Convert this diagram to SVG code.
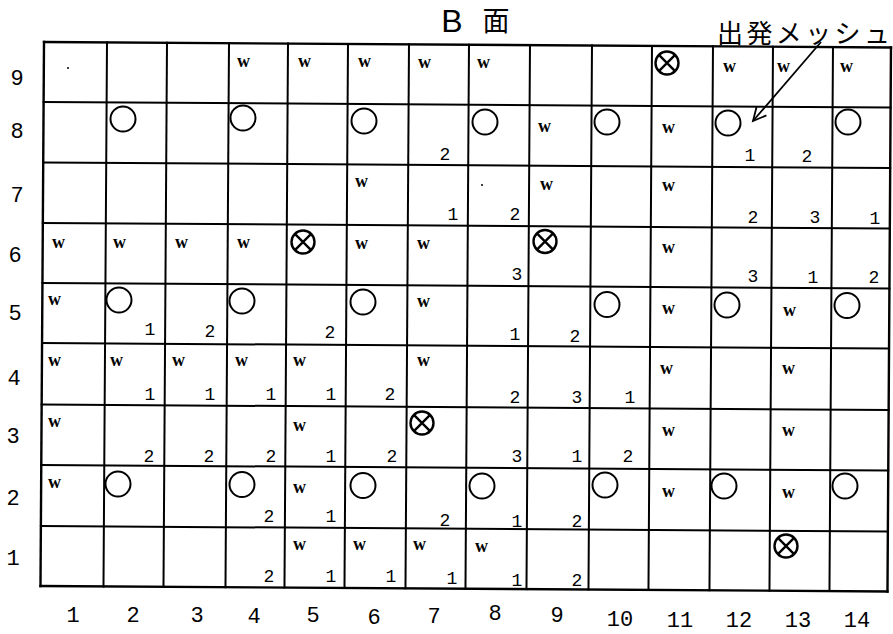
<svg xmlns="http://www.w3.org/2000/svg" width="893" height="634" viewBox="0 0 893 634">
<style>
.grid line{stroke:#000;stroke-width:2;stroke-linecap:square}
.grid .outer{stroke-width:2.4}
.lbl{font-family:"Liberation Mono","DejaVu Sans Mono",monospace;font-size:22px;fill:#000;text-anchor:middle}
.num{font-family:"Liberation Mono","DejaVu Sans Mono",monospace;font-size:18px;fill:#000;text-anchor:middle}
.w{font-family:"Liberation Serif","DejaVu Serif",serif;font-size:18px;font-weight:bold;fill:#000}
.ring{fill:none;stroke:#000;stroke-width:2}
.jp{font-family:"Noto Sans CJK JP","Noto Sans CJK SC",sans-serif;fill:#000}
.dot{fill:#000}
</style>
<defs>
<g id="ox"><circle r="11.5" fill="none" stroke="#000" stroke-width="2.4"/><path d="M-8.1,-8.1L8.1,8.1M8.1,-8.1L-8.1,8.1" stroke="#000" stroke-width="2.4"/></g>
<marker id="ah" viewBox="-2 -9 18 18" refX="13" refY="0" markerWidth="18" markerHeight="18" markerUnits="userSpaceOnUse" orient="auto"><path d="M0,-6.5L13,0L0,6.5" fill="none" stroke="#000" stroke-width="1.8"/></marker>
</defs>
<rect width="893" height="634" fill="#fff"/>

<g id="title">
<text x="452" y="32" font-family="Liberation Sans, sans-serif" font-size="32" text-anchor="middle">B</text>
<text class="jp" x="496" y="31" font-size="27" text-anchor="middle">面</text>
</g>
<g id="start-label">
<text class="jp" x="717" y="43" font-size="26" textLength="173" lengthAdjust="spacing">出発メッシュ</text>
</g>

<g id="grid" class="grid" transform="rotate(0.37 44 42)">
<line class="outer" x1="44" y1="42" x2="44" y2="586"/>
<line x1="107" y1="42" x2="107" y2="586"/>
<line x1="167" y1="42" x2="167" y2="586"/>
<line x1="229" y1="42" x2="229" y2="586"/>
<line x1="288" y1="42" x2="288" y2="586"/>
<line x1="348" y1="42" x2="348" y2="586"/>
<line x1="409" y1="42" x2="409" y2="586"/>
<line x1="469" y1="42" x2="469" y2="586"/>
<line x1="530" y1="42" x2="530" y2="586"/>
<line x1="592" y1="42" x2="592" y2="586"/>
<line x1="652" y1="42" x2="652" y2="586"/>
<line x1="713" y1="42" x2="713" y2="586"/>
<line x1="773" y1="42" x2="773" y2="586"/>
<line x1="833" y1="42" x2="833" y2="586"/>
<line class="outer" x1="891" y1="42" x2="891" y2="586"/>
<line class="outer" x1="44" y1="42" x2="891" y2="42"/>
<line x1="44" y1="102" x2="891" y2="102"/>
<line x1="44" y1="162.5" x2="891" y2="162.5"/>
<line x1="44" y1="223" x2="891" y2="223"/>
<line x1="44" y1="283" x2="891" y2="283"/>
<line x1="44" y1="343" x2="891" y2="343"/>
<line x1="44" y1="404.5" x2="891" y2="404.5"/>
<line x1="44" y1="465" x2="891" y2="465"/>
<line x1="44" y1="526" x2="891" y2="526"/>
<line class="outer" x1="44" y1="586" x2="891" y2="586"/>
</g>

<g id="row-labels">
<text class="lbl" x="17" y="85">9</text>
<text class="lbl" x="17" y="138">8</text>
<text class="lbl" x="17" y="202">7</text>
<text class="lbl" x="15" y="262">6</text>
<text class="lbl" x="15" y="320">5</text>
<text class="lbl" x="14" y="385">4</text>
<text class="lbl" x="13" y="443">3</text>
<text class="lbl" x="13" y="505">2</text>
<text class="lbl" x="13" y="565">1</text>
</g>
<g id="col-labels">
<text class="lbl" x="73" y="622">1</text>
<text class="lbl" x="133" y="622">2</text>
<text class="lbl" x="197" y="622">3</text>
<text class="lbl" x="254" y="623">4</text>
<text class="lbl" x="313" y="622">5</text>
<text class="lbl" x="374" y="624">6</text>
<text class="lbl" x="434" y="623">7</text>
<text class="lbl" x="495" y="620">8</text>
<text class="lbl" x="557" y="622">9</text>
<text class="lbl" x="620" y="626">10</text>
<text class="lbl" x="680" y="627">11</text>
<text class="lbl" x="739" y="627">12</text>
<text class="lbl" x="798" y="627">13</text>
<text class="lbl" x="857" y="627">14</text>
</g>

<g id="w-marks">
<text class="w" x="237" y="67">w</text>
<text class="w" x="298" y="67">w</text>
<text class="w" x="358" y="67">w</text>
<text class="w" x="418" y="68">w</text>
<text class="w" x="477" y="68">w</text>
<text class="w" x="723" y="72">w</text>
<text class="w" x="777" y="72">w</text>
<text class="w" x="840" y="72">w</text>
<text class="w" x="538" y="132">w</text>
<text class="w" x="662" y="133">w</text>
<text class="w" x="355" y="187">w</text>
<text class="w" x="540" y="190">w</text>
<text class="w" x="662" y="191">w</text>
<text class="w" x="52" y="248">w</text>
<text class="w" x="113" y="248">w</text>
<text class="w" x="175" y="248">w</text>
<text class="w" x="237" y="248">w</text>
<text class="w" x="355" y="249">w</text>
<text class="w" x="417" y="249">w</text>
<text class="w" x="662" y="253">w</text>
<text class="w" x="48" y="305">w</text>
<text class="w" x="417" y="307">w</text>
<text class="w" x="662" y="314">w</text>
<text class="w" x="783" y="316">w</text>
<text class="w" x="48" y="366">w</text>
<text class="w" x="110" y="366">w</text>
<text class="w" x="172" y="366">w</text>
<text class="w" x="235" y="366">w</text>
<text class="w" x="293" y="366">w</text>
<text class="w" x="417" y="366">w</text>
<text class="w" x="660" y="374">w</text>
<text class="w" x="782" y="374">w</text>
<text class="w" x="48" y="427">w</text>
<text class="w" x="293" y="431">w</text>
<text class="w" x="662" y="436">w</text>
<text class="w" x="782" y="436">w</text>
<text class="w" x="48" y="488">w</text>
<text class="w" x="293" y="493">w</text>
<text class="w" x="662" y="497">w</text>
<text class="w" x="782" y="498">w</text>
<text class="w" x="293" y="550">w</text>
<text class="w" x="353" y="550">w</text>
<text class="w" x="413" y="550">w</text>
<text class="w" x="475" y="552">w</text>
</g>

<g id="numbers">
<text class="num" x="445" y="160">2</text>
<text class="num" x="750" y="161">1</text>
<text class="num" x="807" y="162">2</text>
<text class="num" x="453" y="220">1</text>
<text class="num" x="515" y="220">2</text>
<text class="num" x="753" y="223">2</text>
<text class="num" x="815" y="223">3</text>
<text class="num" x="875" y="224">1</text>
<text class="num" x="517" y="280">3</text>
<text class="num" x="753" y="282">3</text>
<text class="num" x="813" y="283">1</text>
<text class="num" x="874" y="283">2</text>
<text class="num" x="150" y="335">1</text>
<text class="num" x="210" y="337">2</text>
<text class="num" x="330" y="338">2</text>
<text class="num" x="515" y="340">1</text>
<text class="num" x="575" y="342">2</text>
<text class="num" x="150" y="400">1</text>
<text class="num" x="210" y="400">1</text>
<text class="num" x="271" y="400">1</text>
<text class="num" x="331" y="400">1</text>
<text class="num" x="390" y="400">2</text>
<text class="num" x="515" y="403">2</text>
<text class="num" x="577" y="403">3</text>
<text class="num" x="630" y="403">1</text>
<text class="num" x="149" y="462">2</text>
<text class="num" x="209" y="462">2</text>
<text class="num" x="271" y="462">2</text>
<text class="num" x="331" y="462">1</text>
<text class="num" x="392" y="462">2</text>
<text class="num" x="517" y="462">3</text>
<text class="num" x="577" y="462">1</text>
<text class="num" x="628" y="462">2</text>
<text class="num" x="269" y="522">2</text>
<text class="num" x="331" y="522">1</text>
<text class="num" x="445" y="526">2</text>
<text class="num" x="517" y="527">1</text>
<text class="num" x="577" y="527">2</text>
<text class="num" x="269" y="582">2</text>
<text class="num" x="331" y="582">1</text>
<text class="num" x="391" y="582">1</text>
<text class="num" x="452" y="584">1</text>
<text class="num" x="517" y="586">1</text>
<text class="num" x="577" y="586">2</text>
</g>

<g id="circles">
<circle class="ring" cx="123" cy="119" r="12.5"/>
<circle class="ring" cx="243" cy="118" r="12.5"/>
<circle class="ring" cx="364" cy="121" r="12.5"/>
<circle class="ring" cx="485" cy="122" r="12.5"/>
<circle class="ring" cx="607" cy="122" r="12.5"/>
<circle class="ring" cx="728" cy="123" r="12.5"/>
<circle class="ring" cx="848" cy="122" r="12.5"/>
<circle class="ring" cx="119" cy="300" r="12.5"/>
<circle class="ring" cx="242" cy="301" r="12.5"/>
<circle class="ring" cx="363" cy="302" r="12.5"/>
<circle class="ring" cx="607" cy="304.5" r="12.5"/>
<circle class="ring" cx="727" cy="305" r="12.5"/>
<circle class="ring" cx="847" cy="305.5" r="12.5"/>
<circle class="ring" cx="118" cy="484" r="12.5"/>
<circle class="ring" cx="242" cy="484.5" r="12.5"/>
<circle class="ring" cx="363" cy="485.5" r="12.5"/>
<circle class="ring" cx="482" cy="486" r="12.5"/>
<circle class="ring" cx="605" cy="485" r="12.5"/>
<circle class="ring" cx="724" cy="486" r="12.5"/>
<circle class="ring" cx="845" cy="486" r="12.5"/>
</g>

<g id="crossed-circles">
<use href="#ox" x="667" y="63"/>
<use href="#ox" x="303" y="242"/>
<use href="#ox" x="545" y="241.5"/>
<use href="#ox" x="422" y="423"/>
<use href="#ox" x="786" y="546"/>
</g>

<g id="specks">
<circle class="dot" cx="68" cy="68" r="1"/>
<circle class="dot" cx="482" cy="185" r="1"/>
</g>

<g id="connectors">
<line x1="821" y1="42" x2="753" y2="121" stroke="#000" stroke-width="1.8" marker-end="url(#ah)"/>
</g>
</svg>
